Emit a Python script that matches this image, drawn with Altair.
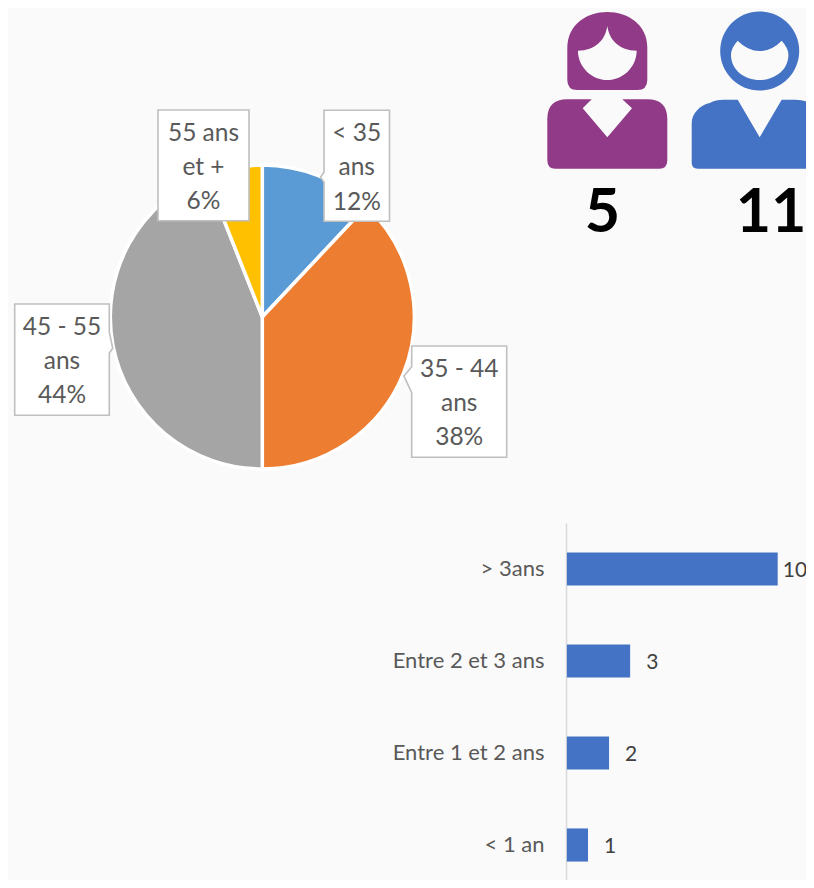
import altair as alt
import pandas as pd

AGE_LINES = ["< 35\nans", "35 - 44\nans", "45 - 55\nans", "55 ans\net +"]
AGE_SHARES = [12, 38, 44, 6]
AGE_COLORS = ["#5B9BD5", "#ED7D31", "#A5A5A5", "#FFC000"]
TENURE = ["> 3ans", "Entre 2 et 3 ans", "Entre 1 et 2 ans", "< 1 an"]
TENURE_COUNTS = [10, 3, 2, 1]
GENDER_COUNTS = [5, 11]

BG = "#FAFAFA"
FONT = "Lato"
M = 8  # page margin: layout constants below are page pixels


def px(v):
    return alt.value(v - M)


pie_df = pd.DataFrame({
    "age": [s.replace("\n", " ") for s in AGE_LINES],
    "share": AGE_SHARES,
    "order": list(range(len(AGE_SHARES))),
})
pie = alt.Chart(pie_df).mark_arc(radius=152, stroke="white", strokeWidth=3.5).encode(
    theta=alt.Theta("share:Q", stack=True, scale=alt.Scale(domain=[0, sum(AGE_SHARES)])),
    order=alt.Order("order:Q"),
    color=alt.Color("age:N", legend=None, sort=None,
                    scale=alt.Scale(domain=pie_df["age"].tolist(), range=AGE_COLORS)),
    x=px(262.3), y=px(317),
)


def shape_layer(path, x, y, fill, stroke=None, sw=0):
    kw = dict(shape=path, size=4, filled=True, fill=fill, opacity=1, strokeOpacity=1, fillOpacity=1)
    if stroke:
        kw.update(stroke=stroke, strokeWidth=sw)
    else:
        kw.update(strokeWidth=0)
    return alt.Chart(pd.DataFrame({"a": [0]})).mark_point(**kw).encode(x=px(x), y=px(y))


def box_path(w, h, tail=None):
    if tail is None:
        return f"M0,0 L{w},0 L{w},{h} L0,{h} Z"
    side, y1, tx, ty, y2 = tail
    if side == "left":
        return f"M0,0 L{w},0 L{w},{h} L0,{h} L0,{y2} L{tx},{ty} L0,{y1} Z"
    return f"M0,0 L{w},0 L{w},{y1} L{tx},{ty} L{w},{y2} L{w},{h} L0,{h} Z"


CALLOUTS = [
    (324, 110.3, 65.5, 111, ("left", 62, -3.5, 67, 72)),
    (411.7, 346, 95, 111.3, ("left", 20.7, -7.7, 30, 46.7)),
    (14.7, 304, 94.6, 111.3, ("right", 28, 98, 44.3, 49)),
    (158, 110, 91, 110.7, None),
]
LINE_H = 34.3


def callout(i):
    x, y, w, h, tail = CALLOUTS[i]
    box = shape_layer(box_path(w, h, tail), x, y, "white", "#BFBFBF", 1.6)
    txt_df = pd.DataFrame({"t": [f"{AGE_LINES[i]}\n{AGE_SHARES[i]}%"]})
    txt = alt.Chart(txt_df).mark_text(
        font=FONT, fontSize=24.5, color="#595959", lineBreak="\n", lineHeight=LINE_H,
        align="center", baseline="middle",
    ).encode(text="t:N", x=px(x + w / 2), y=px(y + h / 2 - LINE_H + 2.5))
    return box + txt


FEMALE_HEAD = ("M-40,-42 C-40,-66 -20,-78 0,-78 C20,-78 40,-66 40,-42 L40,-10 Q40,0 30,0 "
               "L-30,0 Q-40,0 -40,-10 Z")
FEMALE_FACE = ("M0,-64 C2,-50 12,-39.5 29.4,-39.3 C29,-22 15,-10 0,-10 "
               "C-15,-10 -29,-22 -29.4,-39.3 C-12,-39.5 -2,-50 0,-64 Z")
FEMALE_BODY = ("M-15.6,9.3 L-24.6,18.3 L0,47.3 L24.7,18.3 L15,9.3 L40,9.3 Q60,9.3 60,29 L60,70 "
               "Q60,78.7 52,78.7 L-52,78.7 Q-60,78.7 -60,70 L-60,29 Q-60,9.3 -40,9.3 Z")
MALE_HEAD = "M-39.5,-39 A39.5,39.5 0 1 1 39.5,-39 A39.5,39.5 0 1 1 -39.5,-39 Z"
MALE_FACE = ("M-22,-49.3 Q-12,-39 0,-39 Q12,-39 22,-49.3 Q28.7,-42 28.7,-35 C28.7,-20 15,-10 0,-10 "
             "C-15,-10 -28.7,-20 -28.7,-35 Q-28.7,-42 -22,-49.3 Z")
MALE_BODY = ("M-68,33 C-68,24 -60,15 -50,13 Q-44,9.7 -36,9.7 L-22,9.7 L0,47.3 L22,9.7 L36,9.7 "
             "Q44,9.7 50,13 C60,15 68,24 68,33 L68,73 Q68,78.7 62,78.7 L-62,78.7 Q-68,78.7 -68,73 Z")

icons = [
    shape_layer(FEMALE_HEAD, 607.3, 90, "#913A87"),
    shape_layer(FEMALE_FACE, 607.3, 90, BG),
    shape_layer(FEMALE_BODY, 607.3, 90, "#913A87"),
    shape_layer(MALE_HEAD, 759.7, 90, "#4472C4"),
    shape_layer(MALE_FACE, 759.7, 90, BG),
    shape_layer(MALE_BODY, 759.7, 90, "#4472C4"),
]


def count_text(n, x):
    return alt.Chart(pd.DataFrame({"n": [n]})).mark_text(
        font=FONT, fontSize=61, fontWeight="bold", color="black",
        align="center", baseline="middle",
    ).encode(text="n:Q", x=px(x), y=px(214))


counts = [count_text(GENDER_COUNTS[0], 602.5), count_text(GENDER_COUNTS[1], 771)]

bar_df = pd.DataFrame({"cat": TENURE, "n": TENURE_COUNTS})
x_scale = alt.Scale(domain=[0, 10], range=[566.9 - M, 777.7 - M], nice=False, zero=True)
y_scale = alt.Scale(domain=TENURE, range=[523 - M, 891 - M], paddingInner=0.64, paddingOuter=0.32)
base = alt.Chart(bar_df)
bars = base.mark_bar(color="#4472C4").encode(
    x=alt.X("n:Q", scale=x_scale, axis=None),
    y=alt.Y("cat:N", scale=y_scale, sort=None, title=None, axis=alt.Axis(
        offset=-(566 - M), ticks=False, domainColor="#D9D9D9", domainWidth=1.5,
        labelFont=FONT, labelFontSize=22, labelColor="#595959", labelPadding=22, labelLimit=300,
    )),
)


def bar_label(test, dx):
    return base.transform_filter(test).mark_text(
        font=FONT, fontSize=21, color="#404040", align="left", baseline="middle", dx=dx, dy=1.5,
    ).encode(
        x=alt.X("n:Q", scale=x_scale, axis=None),
        y=alt.Y("cat:N", scale=y_scale, sort=None, title=None),
        text="n:Q",
    )


labels_small = bar_label("datum.n < 10", 16)
labels_big = bar_label("datum.n >= 10", 5)

layers = [pie] + [callout(i) for i in [3, 0, 1, 2]] + icons + counts + [bars, labels_small, labels_big]
chart = alt.layer(*layers).properties(
    width=798, height=872, background=BG, padding=0, autosize=alt.AutoSizeParams(type="none"),
).configure_view(stroke=None)

chart.save("out.html", embed_options={"renderer": "svg", "actions": False})
